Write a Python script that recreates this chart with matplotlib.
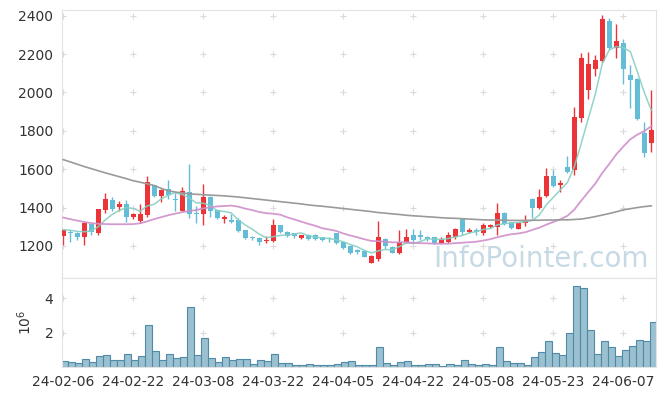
import numpy as np
import pandas as pd
import matplotlib
matplotlib.use("Agg")
import matplotlib.pyplot as plt

# trading days (24-02-06 .. 24-06-13)
dates = ["24-02-06", "24-02-07", "24-02-08", "24-02-13", "24-02-14", "24-02-15", "24-02-16", "24-02-19", "24-02-20", "24-02-21",
         "24-02-22", "24-02-23", "24-02-26", "24-02-27", "24-02-28", "24-02-29", "24-03-04", "24-03-05", "24-03-06", "24-03-07",
         "24-03-08", "24-03-11", "24-03-12", "24-03-13", "24-03-14", "24-03-15", "24-03-18", "24-03-19", "24-03-20", "24-03-21",
         "24-03-22", "24-03-25", "24-03-26", "24-03-27", "24-03-28", "24-03-29", "24-04-01", "24-04-02", "24-04-03", "24-04-04",
         "24-04-05", "24-04-08", "24-04-09", "24-04-11", "24-04-12", "24-04-15", "24-04-16", "24-04-17", "24-04-18", "24-04-19",
         "24-04-22", "24-04-23", "24-04-24", "24-04-25", "24-04-26", "24-04-29", "24-04-30", "24-05-02", "24-05-03", "24-05-07",
         "24-05-08", "24-05-09", "24-05-10", "24-05-13", "24-05-14", "24-05-16", "24-05-17", "24-05-20", "24-05-21", "24-05-22",
         "24-05-23", "24-05-24", "24-05-27", "24-05-28", "24-05-29", "24-05-30", "24-05-31", "24-06-03", "24-06-04", "24-06-05",
         "24-06-07", "24-06-10", "24-06-11", "24-06-12", "24-06-13"]

opens = [1252, 1275, 1270, 1247, 1312, 1270, 1387, 1441, 1401, 1421,
         1352, 1331, 1360, 1516, 1462, 1495, 1444, 1383, 1479, 1372,
         1369, 1455, 1387, 1340, 1336, 1336, 1282, 1249, 1242, 1224,
         1226, 1308, 1275, 1268, 1242, 1258, 1258, 1247, 1242, 1265,
         1219, 1200, 1179, 1174, 1113, 1132, 1238, 1197, 1163, 1218,
         1258, 1256, 1245, 1244, 1217, 1223, 1244, 1340, 1275, 1284,
         1270, 1298, 1301, 1373, 1324, 1289, 1320, 1444, 1397, 1460,
         1564, 1516, 1613, 1596, 1867, 2011, 2124, 2163, 2374, 2234,
         2260, 2093, 2072, 1786, 1734]
highs = [1285, 1283, 1272, 1326, 1315, 1394, 1474, 1456, 1435, 1439,
         1374, 1418, 1563, 1519, 1496, 1544, 1476, 1505, 1627, 1409,
         1521, 1462, 1390, 1360, 1366, 1348, 1284, 1252, 1249, 1252,
         1340, 1310, 1279, 1270, 1259, 1261, 1261, 1249, 1249, 1268,
         1223, 1203, 1186, 1176, 1155, 1331, 1242, 1200, 1284, 1287,
         1287, 1284, 1251, 1247, 1244, 1275, 1296, 1345, 1296, 1291,
         1319, 1315, 1425, 1376, 1327, 1324, 1361, 1448, 1497, 1605,
         1594, 1545, 1671, 1925, 2207, 2211, 2194, 2403, 2386, 2356,
         2279, 2142, 2075, 1846, 2013]
lows = [1207, 1220, 1231, 1205, 1256, 1258, 1374, 1380, 1381, 1327,
        1341, 1319, 1353, 1456, 1427, 1444, 1383, 1380, 1348, 1317,
        1308, 1353, 1340, 1317, 1319, 1275, 1235, 1231, 1203, 1217,
        1221, 1270, 1244, 1242, 1238, 1231, 1231, 1224, 1222, 1212,
        1184, 1157, 1160, 1141, 1110, 1123, 1186, 1162, 1160, 1214,
        1223, 1231, 1226, 1209, 1214, 1217, 1238, 1256, 1270, 1259,
        1259, 1291, 1256, 1307, 1289, 1286, 1305, 1345, 1392, 1456,
        1507, 1481, 1578, 1570, 1847, 1967, 2086, 2159, 2226, 2180,
        2046, 1920, 1856, 1663, 1689]
closes = [1282, 1268, 1247, 1319, 1275, 1390, 1444, 1392, 1421, 1352,
          1369, 1369, 1533, 1462, 1491, 1465, 1440, 1484, 1369, 1365,
          1455, 1380, 1347, 1352, 1326, 1278, 1242, 1240, 1221, 1231,
          1308, 1273, 1252, 1250, 1256, 1235, 1238, 1230, 1235, 1217,
          1191, 1165, 1170, 1144, 1148, 1245, 1200, 1165, 1223, 1245,
          1231, 1249, 1235, 1217, 1237, 1256, 1287, 1275, 1284, 1273,
          1310, 1310, 1373, 1312, 1296, 1320, 1334, 1400, 1455, 1563,
          1512, 1530, 1587, 1870, 2179, 2150, 2168, 2382, 2229, 2266,
          2121, 2067, 1859, 1685, 1804]
volumes = [350000, 270000, 210000, 450000, 290000, 620000, 680000, 410000, 410000, 740000,
           410000, 620000, 2430000, 910000, 410000, 740000, 520000, 560000, 3480000, 680000,
           1670000, 500000, 290000, 560000, 410000, 450000, 450000, 160000, 410000, 330000,
           740000, 210000, 210000, 100000, 100000, 160000, 100000, 100000, 100000, 160000,
           270000, 330000, 100000, 100000, 100000, 1150000, 210000, 100000, 270000, 330000,
           100000, 100000, 160000, 160000, 40000, 160000, 100000, 390000, 160000, 100000,
           160000, 100000, 1150000, 330000, 210000, 210000, 100000, 560000, 850000, 1500000,
           800000, 680000, 1960000, 4700000, 4580000, 2140000, 740000, 1500000, 1150000, 620000,
           970000, 1200000, 1550000, 1500000, 2600000]

# moving averages before the window is complete
ma5_head = [1285, 1282, 1276, 1274]
ma20_head = [1348, 1340, 1332, 1325, 1319, 1316, 1314, 1313, 1313, 1313,
             1314, 1318, 1328, 1340, 1350, 1360, 1368, 1376, 1382]
ma60_line = [1650, 1638, 1626, 1614, 1603, 1592, 1581, 1571, 1561, 1551,
             1540, 1532, 1524, 1515, 1500, 1488, 1481, 1476, 1472, 1469,
             1467, 1465, 1463, 1461, 1458, 1455, 1451, 1447, 1443, 1439,
             1435, 1431, 1427, 1423, 1419, 1414, 1410, 1407, 1403, 1399,
             1395, 1391, 1387, 1383, 1379, 1374, 1371, 1367, 1364, 1360,
             1357, 1355, 1352, 1350, 1347, 1345, 1344, 1342, 1340, 1338,
             1336, 1335, 1335, 1334, 1333, 1333, 1333, 1334, 1334, 1335,
             1335, 1336, 1336, 1338, 1340, 1346, 1353, 1361, 1369, 1378,
             1388, 1394, 1400, 1405, 1409]

df = pd.DataFrame({"open": opens, "high": highs, "low": lows, "close": closes, "vol": volumes})
ma5 = df["close"].rolling(5).mean().values
ma5[:4] = ma5_head
ma20 = df["close"].rolling(20).mean().values
ma20[:19] = ma20_head

x = np.arange(len(df))
up = df["close"] >= df["open"]
red = "#ec3338"
blue = "#63bdd7"
colors = np.where(up, red, blue)

fig = plt.figure(figsize=(6.65, 3.96), dpi=100)
ax = fig.add_axes([0.0928, 0.298, 0.894, 0.677])
axv = fig.add_axes([0.0928, 0.0732, 0.894, 0.2248], sharex=ax)

# grid crosses
xt = np.arange(0, len(df), 10)
yt = np.arange(1200, 2401, 200)
gx, gy = np.meshgrid(xt, yt)
ax.scatter(gx.ravel(), gy.ravel(), marker="+", s=18, color="#dadada", lw=0.8, zorder=0)
gx, gy = np.meshgrid(xt, [2, 4])
axv.scatter(gx.ravel(), gy.ravel(), marker="+", s=18, color="#dadada", lw=0.8, zorder=0)

# candles
ax.vlines(x, df["low"], df["high"], color=colors, lw=1, zorder=2)
body = (df["close"] - df["open"]).abs().clip(lower=3)
ax.bar(x, body, bottom=np.minimum(df["open"], df["close"]), width=0.7, color=colors, zorder=3)

ax.plot(x, ma5, color="#86cfc3", lw=1.1, alpha=0.9, zorder=4)
ax.plot(x, ma20, color="#cf8fca", lw=1.3, alpha=0.9, zorder=4)
ax.plot(x, ma60_line, color="#9a9a9a", lw=1.2, zorder=4)

ax.text(0.987, 0.041, "InfoPointer.com", transform=ax.transAxes, ha="right", va="baseline",
        fontsize=20, color="#c6dae5", zorder=1)

ax.set_ylim(1033, 2430)
ax.set_yticks(yt)
ax.set_xlim(-0.2, len(df) - 0.3)

# volume
axv.bar(x + 0.25, df["vol"] / 1e6, width=1.0, color="#9bc1d1", edgecolor="#4f8aa6", lw=0.8, zorder=2)
axv.set_ylim(0, 5.16)
axv.set_yticks([2, 4])
axv.set_ylabel(r"$10^6$", fontsize=10, color="#333333", labelpad=8)
axv.set_xticks(xt)
axv.set_xticklabels([dates[i] for i in xt])

for a in (ax, axv):
    for s in a.spines.values():
        s.set_color("#e2e2e2")
    a.tick_params(length=0, labelsize=10, colors="#333333", pad=6)
ax.tick_params(labelbottom=False)

plt.savefig("out.png", dpi=100)
